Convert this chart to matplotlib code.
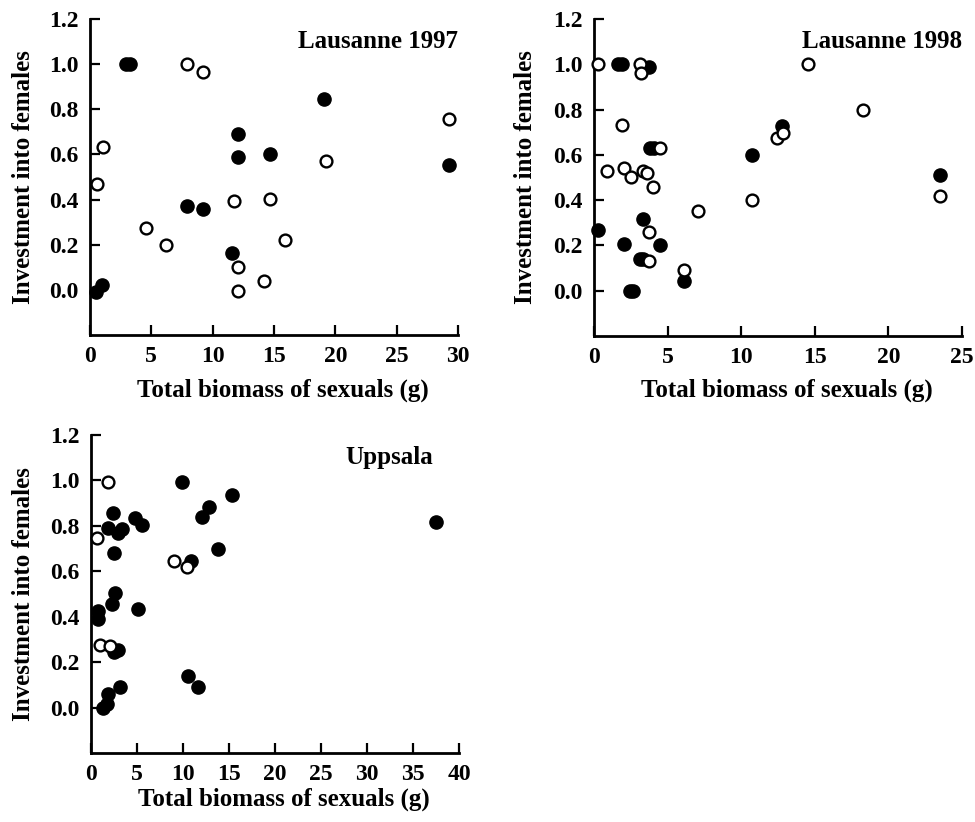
import matplotlib
matplotlib.use("Agg")
import matplotlib.pyplot as plt

plt.rcParams['font.family'] = ['Liberation Serif', 'DejaVu Serif']
plt.rcParams['font.weight'] = 'bold'

# ---- Data ----
l97_filled_x = [0.5, 1.0, 2.9, 3.3, 7.9, 9.2, 12.1, 12.1, 14.7, 11.6, 19.1, 29.3]
l97_filled_y = [-0.01, 0.02, 1.0, 1.0, 0.37, 0.36, 0.69, 0.59, 0.60, 0.165, 0.845, 0.555]
l97_open_x = [1.1, 0.6, 7.9, 9.2, 4.6, 6.2, 11.7, 14.7, 15.9, 12.1, 12.1, 14.2, 19.2, 29.3]
l97_open_y = [0.635, 0.47, 1.0, 0.967, 0.276, 0.20, 0.394, 0.402, 0.22, 0.103, -0.003, 0.04, 0.573, 0.758]

l98_filled_x = [1.6, 1.9, 3.75, 3.8, 4.05, 0.25, 3.35, 2.06, 4.48, 3.1, 3.35, 2.45, 2.65, 6.13, 10.75, 12.8, 23.5]
l98_filled_y = [1.0, 1.0, 0.99, 0.63, 0.63, 0.27, 0.317, 0.208, 0.20, 0.14, 0.14, 0.0, 0.0, 0.042, 0.598, 0.727, 0.512]
l98_open_x = [0.29, 3.12, 3.17, 14.55, 18.3, 1.88, 4.48, 0.86, 2.06, 2.5, 3.35, 3.62, 4.03, 7.08, 10.75, 12.4, 12.85, 23.5, 3.75, 3.75, 6.13]
l98_open_y = [1.0, 1.0, 0.96, 1.0, 0.8, 0.734, 0.63, 0.53, 0.54, 0.50, 0.53, 0.522, 0.46, 0.35, 0.40, 0.675, 0.697, 0.42, 0.259, 0.13, 0.09]

upp_filled_x = [1.3, 1.74, 1.81, 3.15, 0.8, 0.8, 2.24, 2.6, 5.07, 2.53, 2.97, 2.36, 1.88, 2.96, 3.33, 2.5, 4.78, 5.54,
                9.86, 15.36, 12.86, 12.1, 13.84, 10.83, 37.46, 10.5, 11.6]
upp_filled_y = [0.0, 0.016, 0.06, 0.092, 0.427, 0.39, 0.456, 0.504, 0.434, 0.246, 0.254, 0.857, 0.791, 0.769, 0.787, 0.681,
                0.835, 0.804, 0.991, 0.938, 0.884, 0.84, 0.696, 0.645, 0.818, 0.137, 0.092]
upp_open_x = [1.85, 0.62, 0.98, 2.06, 9.06, 10.47]
upp_open_y = [0.993, 0.747, 0.276, 0.27, 0.647, 0.617]

y_ticks = [0.0, 0.2, 0.4, 0.6, 0.8, 1.0, 1.2]
y_ticklabels = ["0.0", "0.2", "0.4", "0.6", "0.8", "1.0", "1.2"]
x_label = "Total biomass of sexuals (g)"
y_label = "Investment into females"

panels = [
    dict(title="Lausanne 1997", fx=l97_filled_x, fy=l97_filled_y, ox=l97_open_x, oy=l97_open_y,
         xmax=30, xticks=[0, 5, 10, 15, 20, 25, 30], rect=[90/975, 1-335/822, (458-90)/975, (335-19)/822],
         title_x=1.0, xl=-0.137, yl=-0.149),
    dict(title="Lausanne 1998", fx=l98_filled_x, fy=l98_filled_y, ox=l98_open_x, oy=l98_open_y,
         xmax=25, xticks=[0, 5, 10, 15, 20, 25], rect=[594/975, 1-336/822, (962-594)/975, (336-19)/822],
         title_x=1.0, xl=-0.134, yl=-0.155),
    dict(title="Uppsala", fx=upp_filled_x, fy=upp_filled_y, ox=upp_open_x, oy=upp_open_y,
         xmax=40, xticks=[0, 5, 10, 15, 20, 25, 30, 35, 40], rect=[91/975, 1-753/822, (459-91)/975, (753-435)/822],
         title_x=0.929, xl=-0.11, yl=-0.152),
]

fig = plt.figure(figsize=(9.75, 8.22), dpi=100)

for p in panels:
    ax = fig.add_axes(p["rect"])
    ax.plot(p["fx"], p["fy"], linestyle='none', marker='o', markersize=9.5,
            markerfacecolor='black', markeredgecolor='black', clip_on=False, zorder=3)
    ax.plot(p["ox"], p["oy"], linestyle='none', marker='o', markersize=8.5,
            markerfacecolor='white', markeredgecolor='black', markeredgewidth=1.7, clip_on=False, zorder=4)
    ax.set_xlim(0, p["xmax"])
    ax.set_ylim(-0.2, 1.2)
    ax.set_xticks(p["xticks"])
    ax.set_xticklabels([str(t) for t in p["xticks"]])
    ax.set_yticks(y_ticks)
    ax.set_yticklabels(y_ticklabels)
    for s in ["top", "right"]:
        ax.spines[s].set_visible(False)
    for s in ["left", "bottom"]:
        ax.spines[s].set_linewidth(2.0)
    ax.tick_params(direction='in', length=7, width=1.6, labelsize=17, pad=8)
    for lbl in ax.get_xticklabels() + ax.get_yticklabels():
        lbl.set_fontweight('bold')
    ax.set_xlabel(x_label, fontsize=18, fontweight='bold')
    ax.xaxis.set_label_coords(0.525, p["xl"])
    ax.set_ylabel(y_label, fontsize=18, fontweight='bold')
    ax.yaxis.set_label_coords(p["yl"], 0.5)
    ax.text(p["title_x"], 0.93, p["title"], transform=ax.transAxes,
            ha='right', va='center', fontsize=18, fontweight='bold')

fig.savefig("out.png", dpi=100)
